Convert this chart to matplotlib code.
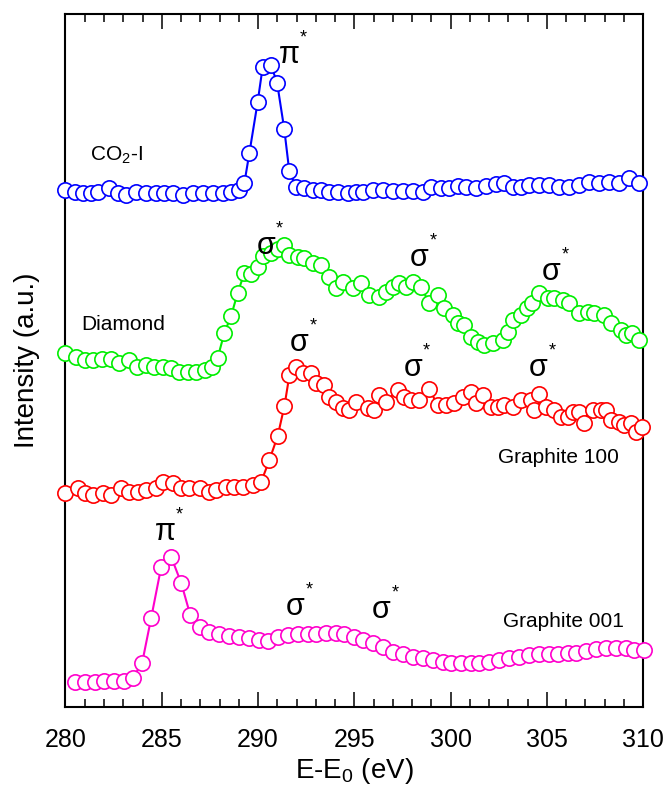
import matplotlib
matplotlib.use("Agg")
import matplotlib.pyplot as plt
from matplotlib.ticker import MultipleLocator

plt.rcParams['font.family'] = ['Liberation Sans', 'DejaVu Sans']
plt.rcParams['mathtext.fontset'] = 'custom'
plt.rcParams['mathtext.rm'] = 'Liberation Sans'

# CO2-I (azul)
e_co2 = [280.0, 280.47, 280.90, 281.33, 281.68, 282.28, 282.71, 283.15, 283.67, 284.19,
         284.71, 285.14, 285.57, 286.09, 286.61, 287.13, 287.65, 288.16, 288.60, 289.03,
         289.29, 289.55, 289.98, 290.24, 290.67, 290.99, 291.36, 291.62, 291.97, 292.40,
         292.84, 293.27, 293.70, 294.13, 294.65, 295.09, 295.43, 295.95, 296.47, 296.99,
         297.51, 298.03, 298.54, 298.98, 299.50, 299.93, 300.36, 300.80, 301.32, 301.83,
         302.35, 302.78, 303.22, 303.65, 304.08, 304.60, 305.12, 305.64, 306.16, 306.68,
         307.20, 307.72, 308.23, 308.75, 309.27, 309.79]
i_co2 = [5.17, 5.15, 5.14, 5.14, 5.15, 5.19, 5.14, 5.12, 5.15, 5.14,
         5.14, 5.14, 5.14, 5.12, 5.14, 5.14, 5.14, 5.14, 5.15, 5.17,
         5.24, 5.54, 6.05, 6.40, 6.42, 6.24, 5.78, 5.36, 5.20, 5.19,
         5.17, 5.17, 5.15, 5.15, 5.14, 5.15, 5.15, 5.17, 5.17, 5.16,
         5.16, 5.16, 5.15, 5.20, 5.19, 5.19, 5.21, 5.20, 5.19, 5.21,
         5.23, 5.24, 5.20, 5.20, 5.22, 5.22, 5.22, 5.20, 5.20, 5.22,
         5.25, 5.24, 5.25, 5.24, 5.29, 5.24]

# Diamond (verde)
e_diamond = [280.0, 280.56, 280.99, 281.42, 281.92, 282.37, 282.80, 283.32, 283.74, 284.19,
             284.62, 285.04, 285.49, 285.92, 286.34, 286.79, 287.22, 287.63, 287.90, 288.25,
             288.60, 288.94, 289.29, 289.64, 289.98, 290.24, 290.67, 291.02, 291.37, 291.63,
             292.06, 292.41, 292.84, 293.27, 293.70, 294.05, 294.39, 294.91, 295.35, 295.78,
             296.30, 296.64, 296.99, 297.33, 297.68, 298.03, 298.46, 298.89, 299.32, 299.67,
             300.10, 300.36, 300.71, 301.06, 301.40, 301.75, 302.18, 302.70, 302.96, 303.22,
             303.65, 303.99, 304.25, 304.60, 305.03, 305.38, 305.81, 306.16, 306.68, 307.11,
             307.46, 307.97, 308.32, 308.84, 309.10, 309.44, 309.79]
i_diamond = [3.54, 3.50, 3.47, 3.47, 3.48, 3.48, 3.44, 3.47, 3.40, 3.42,
             3.40, 3.40, 3.39, 3.35, 3.35, 3.35, 3.37, 3.40, 3.49, 3.74,
             3.91, 4.14, 4.34, 4.33, 4.40, 4.51, 4.54, 4.58, 4.62, 4.52,
             4.50, 4.49, 4.44, 4.42, 4.30, 4.19, 4.25, 4.19, 4.24, 4.12,
             4.10, 4.15, 4.20, 4.24, 4.20, 4.25, 4.20, 4.04, 4.12, 3.99,
             3.92, 3.84, 3.82, 3.70, 3.65, 3.62, 3.64, 3.67, 3.75, 3.87,
             3.92, 3.99, 4.04, 4.14, 4.09, 4.09, 4.07, 4.04, 3.94, 3.95,
             3.94, 3.92, 3.84, 3.77, 3.72, 3.74, 3.67]

# Graphite 100 (vermelho)
e_g100 = [280.0, 280.64, 280.99, 281.42, 281.94, 282.37, 282.89, 283.32, 283.75, 284.19,
          284.71, 285.05, 285.57, 286.01, 286.44, 286.96, 287.47, 287.82, 288.34, 288.77,
          289.20, 289.72, 290.16, 290.59, 291.02, 291.37, 291.63, 291.97, 292.32, 292.75,
          293.01, 293.44, 293.70, 294.05, 294.39, 294.74, 295.09, 295.69, 296.04, 296.30,
          296.64, 297.25, 297.59, 297.94, 298.37, 298.89, 299.32, 299.76, 300.19, 300.62,
          301.06, 301.32, 301.66, 302.10, 302.44, 302.78, 303.22, 303.65, 304.17, 304.34,
          304.60, 304.95, 305.38, 305.73, 306.07, 306.33, 306.68, 306.94, 307.37, 307.80,
          308.06, 308.32, 308.75, 309.01, 309.36, 309.62, 309.96]
i_g100 = [2.14, 2.19, 2.14, 2.12, 2.14, 2.12, 2.19, 2.15, 2.15, 2.17,
          2.19, 2.25, 2.24, 2.19, 2.19, 2.19, 2.15, 2.17, 2.20, 2.20,
          2.20, 2.22, 2.25, 2.47, 2.71, 3.01, 3.32, 3.40, 3.34, 3.34,
          3.24, 3.22, 3.10, 3.05, 2.99, 2.97, 3.05, 2.99, 2.97, 3.12,
          3.05, 3.17, 3.10, 3.07, 3.07, 3.18, 3.02, 3.02, 3.04, 3.10,
          3.15, 3.04, 3.12, 3.00, 3.00, 3.02, 3.00, 3.07, 3.07, 2.97,
          3.13, 3.00, 2.97, 2.90, 2.90, 2.95, 2.95, 2.84, 2.97, 2.97,
          2.97, 2.87, 2.85, 2.82, 2.84, 2.75, 2.80]

# Graphite 001 (magenta)
e_g001 = [280.47, 280.99, 281.51, 282.02, 282.54, 283.06, 283.49, 283.98, 284.45, 284.97,
          285.49, 286.01, 286.48, 286.96, 287.47, 287.99, 288.51, 289.03, 289.55, 290.03,
          290.50, 291.02, 291.54, 292.06, 292.58, 293.01, 293.53, 294.05, 294.48, 295.00,
          295.43, 295.95, 296.47, 296.99, 297.51, 298.03, 298.54, 299.06, 299.58, 300.02,
          300.54, 301.06, 301.49, 302.00, 302.52, 303.04, 303.56, 304.08, 304.60, 305.12,
          305.55, 306.07, 306.50, 307.02, 307.54, 308.06, 308.58, 309.10, 309.53, 310.05]
i_g001 = [0.25, 0.25, 0.25, 0.26, 0.26, 0.26, 0.29, 0.44, 0.89, 1.40,
          1.50, 1.24, 0.92, 0.80, 0.75, 0.73, 0.71, 0.70, 0.69, 0.67,
          0.66, 0.70, 0.72, 0.73, 0.73, 0.73, 0.74, 0.74, 0.73, 0.70,
          0.67, 0.64, 0.60, 0.55, 0.53, 0.50, 0.49, 0.47, 0.45, 0.44,
          0.44, 0.44, 0.44, 0.45, 0.47, 0.49, 0.50, 0.52, 0.53, 0.53,
          0.53, 0.54, 0.54, 0.56, 0.58, 0.59, 0.59, 0.59, 0.57, 0.57]

series = [(e_co2, i_co2, '#0000ff'),
          (e_diamond, i_diamond, '#00ee00'),
          (e_g100, i_g100, '#ff0000'),
          (e_g001, i_g001, '#ff00cc')]

# nomes das amostras (texto, E, I)
nomes = [('CO$_\\mathregular{2}$-I', 281.25, 5.47),
         ('Diamond', 280.81, 3.77),
         ('Graphite 100', 302.44, 2.44),
         ('Graphite 001', 302.70, 0.80)]

# picos pi* e sigma*
picos = [('π', 291.63, 6.52),
         ('σ', 290.40, 4.61), ('σ', 298.37, 4.49), ('σ', 305.21, 4.35),
         ('σ', 292.14, 3.64), ('σ', 298.03, 3.39), ('σ', 304.56, 3.39),
         ('π', 285.19, 1.75), ('σ', 291.94, 1.00), ('σ', 296.38, 0.97)]

fig = plt.figure(figsize=(6.66, 7.85), dpi=100)
ax = fig.add_axes([0.0983, 0.0994, 0.8675, 0.8828])

for e, i, cor in series:
    ax.plot(e, i, '-o', color=cor, lw=1.5, ms=11, mfc='white', mec=cor, mew=1.2,
            clip_on=False, zorder=3)

for txt, e, i in nomes:
    ax.text(e, i, txt, fontsize=15, ha='left', va='baseline')

for sym, e, i in picos:
    ax.text(e, i, sym, fontsize=22, ha='center', va='center')
    ax.annotate('*', xy=(e, i), xytext=(10, 12), textcoords='offset points',
                fontsize=13, ha='center', va='center')

ax.set_xlim(280, 310)
ax.set_ylim(0, 6.93)
ax.xaxis.set_major_locator(MultipleLocator(5))
ax.xaxis.set_minor_locator(MultipleLocator(1))
ax.tick_params(axis='x', which='major', direction='in', length=11, width=1.1,
               top=True, labelsize=18, pad=15)
ax.tick_params(axis='x', which='minor', direction='in', length=6, width=1.1, top=True)
ax.set_yticks([])
for s in ax.spines.values():
    s.set_linewidth(1.5)

ax.set_xlabel('E-E$_\\mathregular{0}$ (eV)', fontsize=20, labelpad=3)
ax.set_ylabel('Intensity (a.u.)', fontsize=20, labelpad=18)

fig.savefig('out.png', dpi=100)
